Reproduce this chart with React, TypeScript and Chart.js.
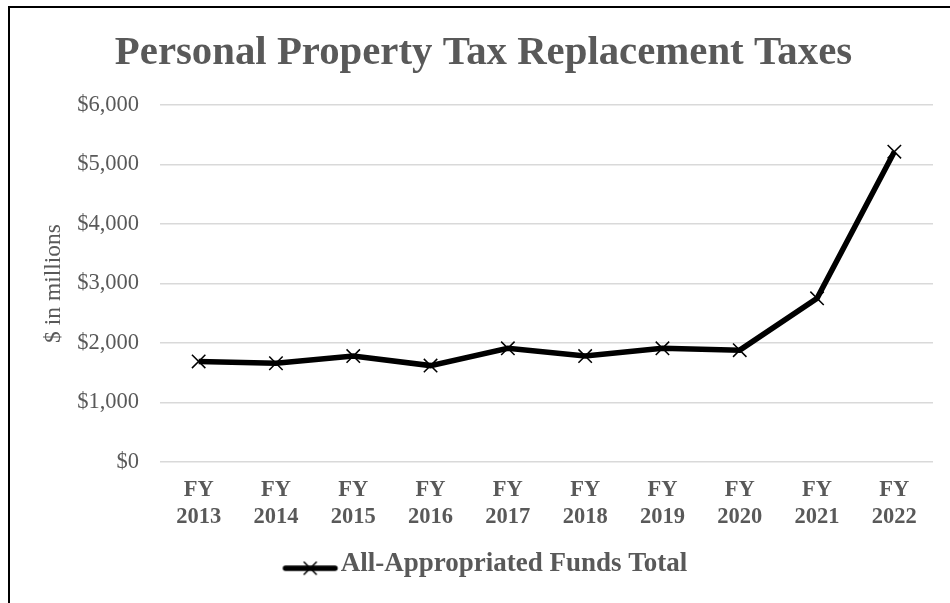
import React, { useEffect, useRef } from "react";
import { Chart, registerables } from "chart.js";

Chart.register(...registerables);

const chartTitle = "Personal Property Tax Replacement Taxes";
const fiscalYears = ["2013", "2014", "2015", "2016", "2017", "2018", "2019", "2020", "2021", "2022"];
const categories = fiscalYears.map((y) => ["FY", y]);
const seriesName = "All-Appropriated Funds Total";
const seriesValues = [1690, 1660, 1780, 1620, 1910, 1780, 1910, 1880, 2750, 5215];
const yAxisTitle = "$ in millions";
const yMin = 0;
const yMax = 6000;
const yStep = 1000;

const FONT = "'Liberation Serif', 'Times New Roman', Times, serif";
const GREY = "#595959";

function makeLegendImage(): HTMLCanvasElement {
  const img = document.createElement("canvas");
  img.width = 80;
  img.height = 24;
  const c = img.getContext("2d")!;
  const ly = 16;
  const x0 = 19.25;
  const x1 = 74.25;
  c.strokeStyle = "#000";
  c.lineCap = "round";
  c.lineWidth = 5.5;
  c.beginPath();
  c.moveTo(x0 + 2.75, ly);
  c.lineTo(x1 - 2.75, ly);
  c.stroke();
  const cx = (x0 + x1) / 2;
  const d = 6.5;
  c.lineCap = "butt";
  c.lineWidth = 1.5;
  c.beginPath();
  c.moveTo(cx - d, ly - d);
  c.lineTo(cx + d, ly + d);
  c.moveTo(cx - d, ly + d);
  c.lineTo(cx + d, ly - d);
  c.stroke();
  return img;
}

export default function App() {
  const ref = useRef<HTMLCanvasElement | null>(null);

  useEffect(() => {
    if (!ref.current) return;
    const legendImg = makeLegendImage();
    const chart = new Chart(ref.current, {
      type: "line",
      data: {
        labels: categories,
        datasets: [
          {
            label: seriesName,
            data: seriesValues,
            borderColor: "#000",
            backgroundColor: "#000",
            borderWidth: 5.5,
            tension: 0,
            pointStyle: "crossRot",
            pointRadius: 9.5,
            pointBorderWidth: 1.5,
            pointBorderColor: "#000",
            pointBackgroundColor: "#000",
          },
        ],
      },
      options: {
        responsive: false,
        animation: false,
        layout: { padding: { left: 0, right: 0, top: 0, bottom: 15.3 } },
        plugins: {
          title: {
            display: true,
            text: chartTitle,
            color: GREY,
            font: { family: FONT, size: 40.8, weight: "bold" },
            padding: { top: 21, bottom: 27 },
          },
          legend: {
            position: "bottom",
            labels: {
              usePointStyle: true,
              pointStyleWidth: 47.5,
              padding: 19.7,
              color: GREY,
              font: { family: FONT, size: 27, weight: "bold" },
              generateLabels: () => [
                {
                  text: seriesName,
                  pointStyle: legendImg as any,
                  fillStyle: "#000",
                  strokeStyle: "#000",
                  lineWidth: 0,
                  hidden: false,
                  datasetIndex: 0,
                  fontColor: GREY,
                } as any,
              ],
            },
          },
          tooltip: { enabled: false },
        },
        scales: {
          x: {
            offset: true,
            grid: { display: false, drawTicks: false },
            border: { display: false },
            ticks: {
              color: GREY,
              font: { family: FONT, size: 22.5, weight: "bold" },
              padding: 15,
              maxRotation: 0,
              autoSkip: false,
            },
            afterFit: (s: any) => {
              s.height = 69;
            },
          },
          y: {
            min: yMin,
            max: yMax,
            grid: { color: "#d9d9d9", lineWidth: 1.5, drawTicks: false },
            border: { display: false },
            ticks: {
              stepSize: yStep,
              padding: 21,
              color: GREY,
              font: { family: FONT, size: 22.5 },
              callback: (v: any) => "$" + Number(v).toLocaleString("en-US"),
            },
            title: {
              display: true,
              text: yAxisTitle,
              color: GREY,
              font: { family: FONT, size: 23.5 },
              padding: { top: 30, bottom: 10 },
            },
            afterFit: (s: any) => {
              s.width = 150;
            },
          },
          yRightSpace: {
            position: "right",
            display: true,
            grid: { display: false, drawOnChartArea: false, drawTicks: false },
            border: { display: false },
            ticks: { display: false },
            afterFit: (s: any) => {
              s.width = 24;
            },
          },
        },
      },
    });
    return () => chart.destroy();
  }, []);

  return (
    <div
      style={{
        position: "fixed",
        left: 8,
        top: 6,
        width: 942,
        height: 597,
        borderTop: "2px solid #000",
        borderLeft: "2px solid #000",
        boxSizing: "border-box",
        overflow: "hidden",
        background: "#fff",
      }}
    >
      <canvas ref={ref} width={947} height={595} style={{ display: "block" }} />
    </div>
  );
}
